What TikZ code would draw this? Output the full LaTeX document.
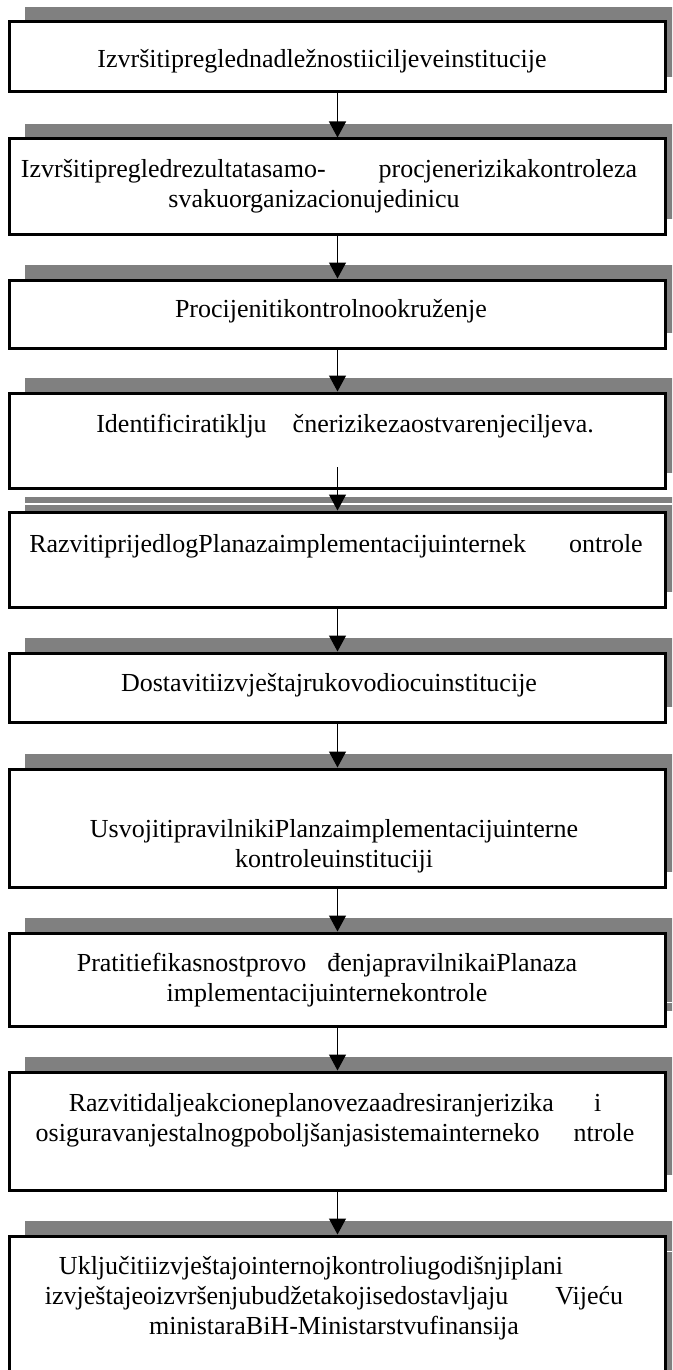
\documentclass[tikz,border=0pt]{standalone}
\usepackage{fontspec}
\setmainfont{Liberation Serif}
\usetikzlibrary{arrows.meta,shadows}
\tikzset{
	stepbox/.style={draw=black, line width=3pt, fill=white, minimum width=656pt, inner sep=0pt,
		drop shadow={shadow xshift=15pt, shadow yshift=15pt, fill=black!50, opacity=1}},
	steptext/.style={align=center, inner sep=0pt, font=\fontsize{26}{30}\selectfont},
	flow/.style={line width=1.2pt, -{Triangle[width=17pt, length=16pt]}}
}

\begin{document}
\begin{tikzpicture}[x=1pt, y=-1pt]
			%%%%% START %%%%%
			
			\clip (0, 0) rectangle (672, 1370);
			
			\node[stepbox, minimum height=70pt] (b1) at (337.5, 57) {};
			\node[stepbox, minimum height=95pt] (b2) at (337.5, 186.5) {};
			\node[stepbox, minimum height=68pt] (b3) at (337.5, 314) {};
			\node[stepbox, minimum height=95pt] (b4) at (337.5, 440.5) {};
			\node[stepbox, minimum height=95pt] (b5) at (337.5, 559.5) {};
			\node[stepbox, minimum height=69pt] (b6) at (337.5, 687.5) {};
			\node[stepbox, minimum height=118pt] (b7) at (337.5, 828) {};
			\node[stepbox, minimum height=93pt] (b8) at (337.5, 979.5) {};
			\node[stepbox, minimum height=118pt] (b9) at (337.5, 1131) {};
			\node[stepbox, minimum height=164pt] (b10) at (337.5, 1318) {};
			
			\draw[white, line width=1.2pt] (24.5, 504) -- (672, 504);
			\draw[white, line width=0.6pt] (667, 1002) -- (672, 1002);
			\draw[white, line width=0.6pt] (667, 1251) -- (672, 1251);
			
			\node[steptext] (t1) at (322, 61) {Izvršitipreglednadležnostiiciljeveinstitucije};
			\node[steptext] (t2) at (329, 186) {Izvršitipregledrezultatasamo-\hspace{53pt}procjenerizikakontroleza\\svakuorganizacionujedinicu\hspace*{30pt}};
			\node[steptext] (t3) at (331, 311) {Procijenitikontrolnookruženje};
			\node[steptext] (t4) at (345, 426) {Identificiratiklju\hspace{26pt}čnerizikezaostvarenjeciljeva.};
			\node[steptext] (t5) at (336, 546) {RazvitiprijedlogPlanazaimplementacijuinternek\hspace{43pt}ontrole};
			\node[steptext] (t6) at (329, 685) {Dostavitiizvještajrukovodiocuinstitucije};
			\node[steptext] (t7) at (334, 846) {UsvojitipravilnikiPlanzaimplementacijuinterne\\kontroleuinstituciji};
			\node[steptext] (t8) at (327, 980) {Pratitiefikasnostprovo\hspace{21pt}đenjapravilnikaiPlanaza\\implementacijuinternekontrole};
			\node[steptext] (t9) at (335, 1120) {Razvitidaljeakcioneplanovezaadresiranjerizika\hspace{40pt}i\\osiguravanjestalnogpoboljšanjasistemainterneko\hspace{34pt}ntrole};
			\node[steptext] (t10) at (334, 1298) {Uključitiizvještajointernojkontroliugodišnjiplani\hspace*{46pt}\\izvještajeoizvršenjubudžetakojisedostavljaju\hspace{47pt}Vijeću\\ministaraBiH-Ministarstvufinansija};
			
			\coordinate (a4) at (337.5, 467);
			
			\draw[flow] (b1.south) -- (b2.north);
			\draw[flow] (b2.south) -- (b3.north);
			\draw[flow] (b3.south) -- (b4.north);
			\draw[flow] (a4) -- (b5.north);
			\draw[flow] (b5.south) -- (b6.north);
			\draw[flow] (b6.south) -- (b7.north);
			\draw[flow] (b7.south) -- (b8.north);
			\draw[flow] (b8.south) -- (b9.north);
			\draw[flow] (b9.south) -- (b10.north);
			
			%%%%% END %%%%%
\end{tikzpicture}
\end{document}
